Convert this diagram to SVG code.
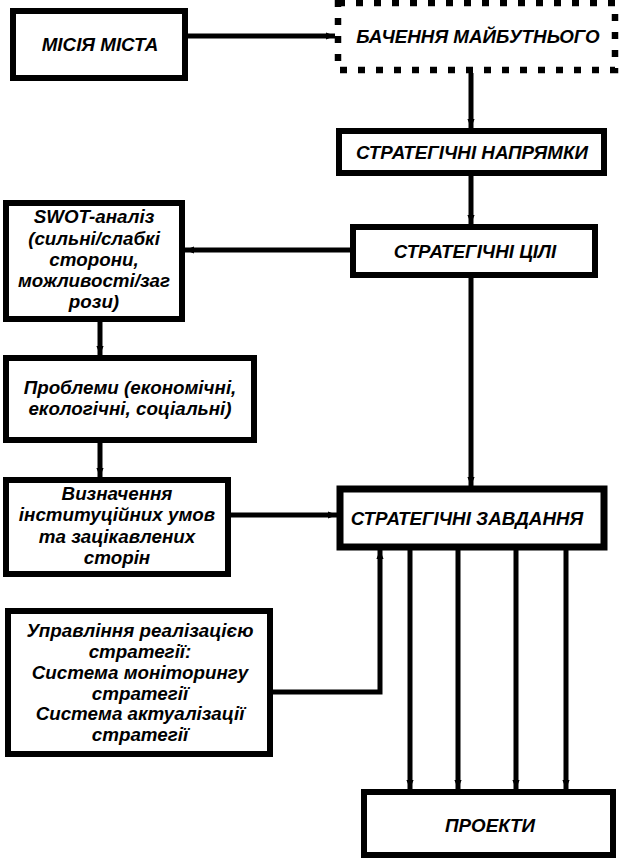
<svg xmlns="http://www.w3.org/2000/svg" width="621" height="860" viewBox="0 0 621 860">
<style>
.box{fill:#fff;stroke:#000;stroke-width:6}
.dash{fill:#fff;stroke:#000;stroke-width:6.5;stroke-dasharray:7 11}
.t{font-family:"Liberation Sans",Arial,sans-serif;font-weight:bold;font-style:italic;font-size:18.8px;fill:#000;text-anchor:middle}
.c{fill:none;stroke:#000;stroke-width:5}
</style>
<defs>
<marker id="ah" viewBox="0 0 10 10" refX="10" refY="5" markerWidth="9" markerHeight="9" markerUnits="userSpaceOnUse" orient="auto">
<path d="M0,1 L10,5 L0,9 z" fill="#000"/>
</marker>
</defs>
<rect width="621" height="860" fill="#fff"/>
<g id="connectors">
<path class="c" d="M188,36 H335" marker-end="url(#ah)"/>
<path class="c" d="M471,73 V128" marker-end="url(#ah)"/>
<path class="c" d="M471,176 V224" marker-end="url(#ah)"/>
<path class="c" d="M350,250 H185" marker-end="url(#ah)"/>
<path class="c" d="M471,278 V486" marker-end="url(#ah)"/>
<path class="c" d="M100,322 V355" marker-end="url(#ah)"/>
<path class="c" d="M100,443 V477" marker-end="url(#ah)"/>
<path class="c" d="M231,515 H337" marker-end="url(#ah)"/>
<path class="c" d="M410,550 V789" marker-end="url(#ah)"/>
<path class="c" d="M458,550 V789" marker-end="url(#ah)"/>
<path class="c" d="M516,550 V789" marker-end="url(#ah)"/>
<path class="c" d="M566,550 V789" marker-end="url(#ah)"/>
<path class="c" d="M273,692 H380 V550" marker-end="url(#ah)"/>
</g>
<g id="misia">
<rect class="box" x="13" y="11" width="172" height="67"/>
<text class="t" x="100" y="51">МІСІЯ МІСТА</text>
</g>
<g id="bachennia">
<rect class="dash" x="338" y="3" width="277" height="67"/>
<text class="t" x="478" y="43">БАЧЕННЯ МАЙБУТНЬОГО</text>
</g>
<g id="napriamky">
<rect class="box" x="339" y="131" width="265" height="42"/>
<text class="t" x="472" y="159">СТРАТЕГІЧНІ НАПРЯМКИ</text>
</g>
<g id="tsili">
<rect class="box" x="353" y="227" width="242" height="48"/>
<text class="t" x="475" y="258">СТРАТЕГІЧНІ ЦІЛІ</text>
</g>
<g id="swot">
<rect class="box" x="6" y="203" width="176" height="116"/>
<text class="t" x="94" y="223">SWOT-аналіз</text>
<text class="t" x="94" y="245">(сильні/слабкі</text>
<text class="t" x="94" y="266">сторони,</text>
<text class="t" x="94" y="287">можливості/заг</text>
<text class="t" x="94" y="308">рози)</text>
</g>
<g id="problemy">
<rect class="box" x="6" y="358" width="248" height="82"/>
<text class="t" x="130" y="394">Проблеми (економічні,</text>
<text class="t" x="130" y="415">екологічні, соціальні)</text>
</g>
<g id="vyznachennia">
<rect class="box" x="6" y="480" width="222" height="94"/>
<text class="t" x="117" y="500">Визначення</text>
<text class="t" x="117" y="521">інституційних умов</text>
<text class="t" x="117" y="543">та зацікавлених</text>
<text class="t" x="117" y="564">сторін</text>
</g>
<g id="zavdannia">
<rect class="box" x="340" y="489" width="264" height="58" style="stroke-width:7"/>
<text class="t" x="467" y="525">СТРАТЕГІЧНІ ЗАВДАННЯ</text>
</g>
<g id="upravlinnia">
<rect class="box" x="8" y="611" width="262" height="143"/>
<text class="t" x="140" y="637">Управління реалізацією</text>
<text class="t" x="140" y="658">стратегії:</text>
<text class="t" x="140" y="679">Система моніторингу</text>
<text class="t" x="140" y="700">стратегії</text>
<text class="t" x="140" y="720">Система актуалізації</text>
<text class="t" x="140" y="741">стратегії</text>
</g>
<g id="proekty">
<rect class="box" x="364" y="792" width="249" height="63"/>
<text class="t" x="490" y="832">ПРОЕКТИ</text>
</g>
</svg>
